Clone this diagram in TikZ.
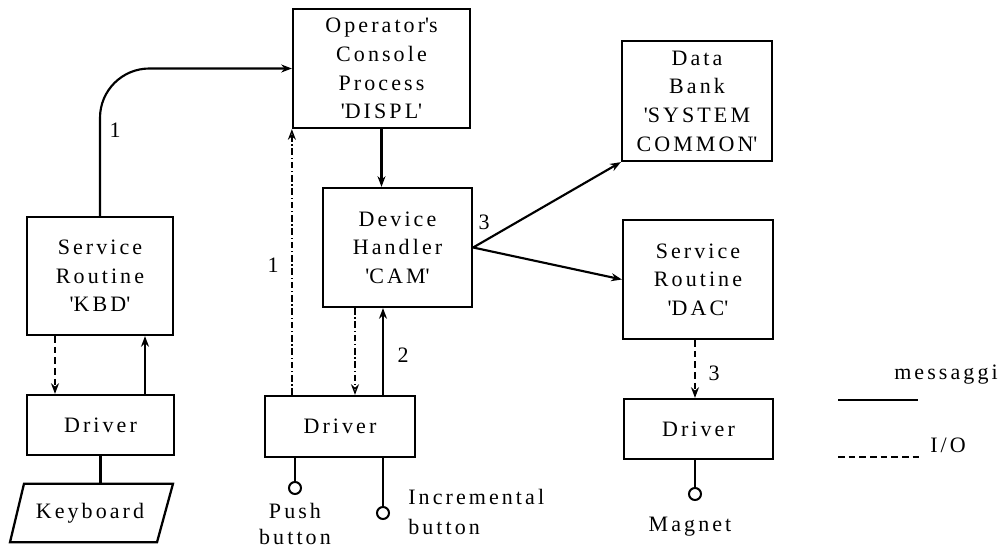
\documentclass[tikz,border=0pt]{standalone}
\usepackage{fontspec}
\setmainfont{Liberation Serif}[LetterSpace=14]
\usetikzlibrary{arrows.meta,calc}
\newcommand\boxfont{\fontsize{16.5}{21.5}\selectfont}
\newcommand\sq{\textquotesingle}
\begin{document}
\begin{tikzpicture}[x=0.75pt,y=-0.75pt,
  box/.style={draw, line width=1.7pt, align=center, inner sep=0pt, font=\boxfont},
  lbl/.style={inner sep=0pt, font=\boxfont},
  wire/.style={line width=1.6pt},
  tip/.style={-{Stealth[length=8pt,width=6pt]}},
  msg/.style={wire, tip},
  iol/.style={line width=1.3pt, dash pattern=on 5pt off 3pt},
  io/.style={iol, tip},
  ctl/.style={line width=1pt, dash pattern=on 5pt off 2pt on 1pt off 2pt,
    -{Stealth[length=8pt,width=6pt,open]}},
  term/.style={circle, draw, line width=1.5pt, minimum size=9pt, inner sep=0pt}]
\useasboundingbox (0,0) rectangle (1003,549);

% keyboard branch
\node[box, minimum width=109.5pt, minimum height=88.5pt] (kbd) at (100,276)
  {Service\\Routine\\\sq KBD\sq};
\node[box, minimum width=110.25pt, minimum height=45pt] (drvL) at (100.5,425) {Driver};
\node[lbl, minimum height=43.5pt] (kb) at (90,513) {Keyboard};
\draw[wire, line width=1.7pt] ($(kb.north)+(-66,0)$) -- ($(kb.north)+(83,0)$)
  -- ($(kb.south)+(67,0)$) -- ($(kb.south)+(-80,0)$) -- cycle;

% operator console and device handler
\node[box, minimum width=132.75pt, minimum height=89.25pt] (con) at (381.5,68.5)
  {Operator\sq s\\Console\\Process\\\sq DISPL\sq};
\node[box, minimum width=111.75pt, minimum height=89.25pt] (cam) at (397.5,247.5)
  {Device\\Handler\\\sq CAM\sq};
\node[box, minimum width=112.5pt, minimum height=45.75pt] (drvM) at (340,426.5) {Driver};

% data bank and DAC branch
\node[box, minimum width=112.5pt, minimum height=90pt] (data) at (697,101)
  {Data\\Bank\\\sq SYSTEM\\COMMON\sq};
\node[box, minimum width=112.5pt, minimum height=89.25pt] (dac) at (698,279.5)
  {Service\\Routine\\\sq DAC\sq};
\node[box, minimum width=111.75pt, minimum height=45pt] (drvR) at (698.5,429) {Driver};

% terminals
\node[term] (pb) at (295,488) {};
\node[term] (ib) at (383,513) {};
\node[term] (mg) at (695,494) {};
\node[lbl, align=center, font=\fontsize{16.5}{20}\selectfont] (pbl) at (295,524) {Push\\button};
\node[lbl, align=left, anchor=west, font=\fontsize{16.5}{22}\selectfont] (ibl) at (408,512)
  {Incremental\\button};
\node[lbl] (mgl) at (690,527) {Magnet};

% message connectors
\draw[msg, rounded corners=37pt] (kbd.north) |- (con.west);
\draw[msg] (con.south) -- (con.south |- cam.north);
\draw[msg] (cam.east) -- (data.south west);
\draw[msg] (cam.east) -- (dac.west);
\draw[msg] ($(drvL.north)+(44.5,0)$) coordinate (kup) -- (kup |- kbd.south);
\draw[msg] (ib.north |- drvM.north) -- (ib.north |- cam.south);

% I/O connectors
\draw[io] ($(kbd.south)+(-45,0)$) coordinate (kdn) -- (kdn |- drvL.north);
\draw[io] (mg.north |- dac.south) -- (mg.north |- drvR.north);
\draw[ctl] (con.south west |- drvM.north) -- (con.south west);
\draw[ctl] ($(cam.south)+(-42.5,0)$) coordinate (cdn) -- (cdn |- drvM.north);

% device wires
\draw[wire] (drvL.south) -- (drvL.south |- kb.north);
\draw[wire] (pb.north |- drvM.south) -- (pb);
\draw[wire] (ib.north |- drvM.south) -- (ib);
\draw[wire] (mg.north |- drvR.south) -- (mg);

% sequence numbers
\node[lbl] (n1a) at (115,130) {1};
\node[lbl] (n1b) at (273,265) {1};
\node[lbl] (n2) at (403,355) {2};
\node[lbl] (n3a) at (484,222) {3};
\node[lbl] (n3b) at (714,373) {3};

% legend
\coordinate (ma) at (838,400);
\coordinate (mb) at (918,400);
\coordinate (ia) at (838,457);
\coordinate (ib2) at (920,457);
\draw[wire] (ma) -- (mb);
\draw[iol] (ia) -- (ib2);
\node[lbl] (leg1) at (946,375) {messaggi};
\node[lbl] (leg2) at (948,445) {I/O};
\end{tikzpicture}
\end{document}
